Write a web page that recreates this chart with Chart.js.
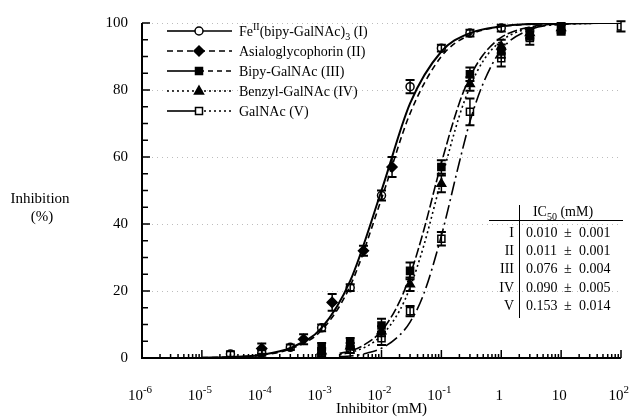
<!DOCTYPE html>
<html>
<head>
<meta charset="utf-8">
<script src="https://cdn.jsdelivr.net/npm/chart.js@4.4.1/dist/chart.umd.min.js"></script>
<style>
  html, body { margin: 0; background: #fff; }
</style>
</head>
<body>
<canvas id="chart" width="630" height="418"></canvas>
<script>
// measured points (inhibitor conc. in mM, % inhibition, error)
const concI = [3e-5, 1e-4, 3e-4, 1e-3, 3e-3, 1e-2, 3e-2, 0.1, 0.3, 1];
const inhI = [1.2, 1.5, 3.2, 9, 21, 48.5, 81, 92.5, 97, 98.5];
const errI = [0.8, 0.8, 0.8, 1, 1, 1.5, 2, 1, 1, 1];

const concII = [1e-4, 5e-4, 1.5e-3, 5e-3, 1.5e-2];
const inhII = [2.8, 5.6, 16.6, 32, 57];
const errII = [1.5, 1.5, 2.5, 1.5, 3];

const concIII = [1e-3, 3e-3, 1e-2, 3e-2, 0.1, 0.3, 1, 3, 10];
const inhIII = [3, 4.5, 9.7, 26, 57, 84.7, 91.6, 96.5, 98.5];
const errIII = [1.5, 1.5, 2, 2.5, 2, 2, 2, 1.5, 1.5];

const concIV = [1e-3, 3e-3, 1e-2, 3e-2, 0.1, 0.3, 1, 3, 10];
const inhIV = [2, 3.5, 8, 22, 52, 81.8, 93, 97, 98.5];
const errIV = [1, 1, 1.5, 2, 2.5, 2, 2, 1.5, 1];

const concV = [1e-3, 3e-3, 1e-2, 3e-2, 0.1, 0.3, 1, 3, 10, 100];
const inhV = [1.5, 2.5, 5.9, 14, 35.6, 73.5, 89.5, 95.5, 98, 99];
const errV = [1, 1, 2, 1.5, 2, 4, 2.5, 2, 1.5, 1.5];

// fitted curves
const curveX1 = [1e-5, 3e-5, 1e-4, 3e-4, 1e-3, 3e-3, 1e-2, 3e-2, 0.1, 0.3, 1, 3, 10, 100];
const curveI = [0.1, 0.3, 1, 3, 9, 23, 50, 76, 91.5, 97, 99, 99.7, 99.9, 100];
const curveII = [0.1, 0.3, 0.9, 2.7, 8.3, 21.5, 47.5, 73, 90, 96.5, 98.9, 99.6, 99.9, 100];

const curveX2 = [2e-3, 3e-3, 5e-3, 1e-2, 2e-2, 3e-2, 5e-2, 0.1, 0.2, 0.3, 0.5, 1, 3, 10, 100];
const curveIII = [1.4, 2.1, 3.8, 8.1, 16.8, 24.7, 37.7, 58.2, 76.2, 83.9, 90.5, 95.7, 98.8, 99.7, 100];
const curveIV = [1.0, 1.7, 3.0, 6.7, 14.1, 21.1, 33.1, 53.2, 72.3, 80.9, 88.7, 94.7, 98.5, 99.6, 100];
const curveV = [0.4, 0.6, 1.2, 2.9, 6.8, 10.7, 18.8, 36.5, 58.5, 70.6, 82, 92, 98, 99.6, 100];

const xExps = [-6, -5, -4, -3, -2, -1, 0, 1, 2];
const xTickBase = ["10", "10", "10", "10", "10", "10", "1", "10", "10"];
const xTickSup = ["-6", "-5", "-4", "-3", "-2", "-1", "", "", "2"];

const tableRows = ["I", "II", "III", "IV", "V"];
const tableIC50 = ["0.010", "0.011", "0.076", "0.090", "0.153"];
const tableErr = ["0.001", "0.001", "0.004", "0.005", "0.014"];

const SERIF = "'Liberation Serif', 'DejaVu Serif', serif";

const pts = (xs, ys) => xs.map((x, i) => ({ x: x, y: ys[i] }));

const series = [
  { name: "I", conc: concI, inh: inhI, err: errI, curveX: curveX1, curve: curveI, dash: [], style: "circle", fill: "#fff", r: 4 },
  { name: "II", conc: concII, inh: inhII, err: errII, curveX: curveX1, curve: curveII, dash: [6, 4], style: "rectRot", fill: "#000", r: 5 },
  { name: "III", conc: concIII, inh: inhIII, err: errIII, curveX: curveX2, curve: curveIII, dash: [10, 3], style: "rect", fill: "#000", r: 5 },
  { name: "IV", conc: concIV, inh: inhIV, err: errIV, curveX: curveX2, curve: curveIV, dash: [2, 3], style: "triangle", fill: "#000", r: 5 },
  { name: "V", conc: concV, inh: inhV, err: errV, curveX: curveX2, curve: curveV, dash: [14, 4, 2, 4], style: "rect", fill: "#fff", r: 5 }
];

const datasets = [];
series.forEach((s) => {
  datasets.push({
    label: "fit " + s.name,
    data: pts(s.curveX, s.curve),
    showLine: true,
    borderColor: "#000",
    borderWidth: s.name === "I" ? 2 : 1.6,
    borderDash: s.dash,
    pointRadius: 0,
    cubicInterpolationMode: "monotone",
    fill: false
  });
});
series.forEach((s) => {
  datasets.push({
    label: s.name,
    data: pts(s.conc, s.inh),
    showLine: false,
    pointStyle: s.style,
    pointRadius: s.r,
    pointBackgroundColor: s.fill,
    pointBorderColor: "#000",
    pointBorderWidth: 1.5,
    errors: s.err
  });
});

function drawMarker(ctx, style, fill, x, y) {
  ctx.save();
  ctx.fillStyle = fill;
  ctx.strokeStyle = "#000";
  ctx.lineWidth = 1.5;
  ctx.setLineDash([]);
  ctx.beginPath();
  if (style === "circle") {
    ctx.arc(x, y, 4, 0, Math.PI * 2);
  } else if (style === "rectRot") {
    ctx.moveTo(x, y - 5); ctx.lineTo(x + 5, y); ctx.lineTo(x, y + 5); ctx.lineTo(x - 5, y); ctx.closePath();
  } else if (style === "rect") {
    ctx.rect(x - 3.5, y - 3.5, 7, 7);
  } else if (style === "triangle") {
    ctx.moveTo(x, y - 5); ctx.lineTo(x + 4.5, y + 3); ctx.lineTo(x - 4.5, y + 3); ctx.closePath();
  }
  ctx.fill();
  ctx.stroke();
  ctx.restore();
}

// text with a raised / lowered part: parts = [[text, "n"|"sup"|"sub"], ...]
function richText(ctx, parts, x, y, size, align, maxRight) {
  const small = Math.round(size * 0.7);
  let w = 0;
  parts.forEach((p) => {
    ctx.font = (p[1] === "n" ? size : small) + "px " + SERIF;
    p.w = ctx.measureText(p[0]).width;
    w += p.w;
  });
  let cx = align === "center" ? x - w / 2 : x;
  if (maxRight && cx + w > maxRight) cx = maxRight - w;
  ctx.textAlign = "left";
  ctx.textBaseline = "alphabetic";
  parts.forEach((p) => {
    ctx.font = (p[1] === "n" ? size : small) + "px " + SERIF;
    let dy = p[1] === "sup" ? -size * 0.45 : p[1] === "sub" ? size * 0.3 : 0;
    ctx.fillText(p[0], cx, y + dy);
    cx += p.w;
  });
}

const decorPlugin = {
  id: "decor",
  beforeDatasetsDraw(chart) {
    const { ctx, chartArea: a, scales: { y } } = chart;
    ctx.save();
    ctx.strokeStyle = "#bdbdbd";
    ctx.lineWidth = 1;
    ctx.setLineDash([1, 4]);
    [20, 40, 60, 80, 100].forEach((v) => {
      const py = Math.round(y.getPixelForValue(v)) + 0.5;
      ctx.beginPath(); ctx.moveTo(a.left, py); ctx.lineTo(a.right, py); ctx.stroke();
    });
    ctx.restore();
  },
  afterDatasetsDraw(chart) {
    const { ctx, chartArea: a, scales: { x, y } } = chart;
    ctx.save();
    // error bars
    ctx.strokeStyle = "#000";
    ctx.setLineDash([]);
    chart.data.datasets.forEach((ds) => {
      if (!ds.errors) return;
      ds.data.forEach((p, i) => {
        const e = ds.errors[i];
        const px = x.getPixelForValue(p.x);
        const top = y.getPixelForValue(Math.min(p.y + e, 100.5));
        const bot = y.getPixelForValue(p.y - e);
        ctx.lineWidth = 1.5;
        ctx.beginPath(); ctx.moveTo(px, top); ctx.lineTo(px, bot); ctx.stroke();
        ctx.lineWidth = 2;
        ctx.beginPath();
        ctx.moveTo(px - 4.5, top); ctx.lineTo(px + 4.5, top);
        ctx.moveTo(px - 4.5, bot); ctx.lineTo(px + 4.5, bot);
        ctx.stroke();
      });
    });

    // axes
    ctx.lineWidth = 2;
    ctx.beginPath();
    ctx.moveTo(a.left, a.top); ctx.lineTo(a.left, a.bottom); ctx.lineTo(a.right, a.bottom);
    ctx.stroke();
    ctx.lineWidth = 1.5;
    ctx.beginPath();
    for (let v = 0; v <= 100; v += 5) {
      const py = y.getPixelForValue(v);
      ctx.moveTo(a.left, py); ctx.lineTo(a.left + (v % 20 === 0 ? 8 : 6), py);
    }
    xExps.forEach((ex) => {
      const base = Math.pow(10, ex);
      const px = x.getPixelForValue(base);
      ctx.moveTo(px, a.bottom); ctx.lineTo(px, a.bottom - 8);
      if (ex < 2) {
        for (let m = 2; m <= 9; m++) {
          const mx = x.getPixelForValue(base * m);
          ctx.moveTo(mx, a.bottom); ctx.lineTo(mx, a.bottom - 4);
        }
      }
    });
    ctx.stroke();

    // x tick labels with exponents
    ctx.fillStyle = "#000";
    xExps.forEach((ex, i) => {
      const px = x.getPixelForValue(Math.pow(10, ex));
      const parts = [[xTickBase[i], "n"]];
      if (xTickSup[i]) parts.push([xTickSup[i], "sup"]);
      richText(ctx, parts, px - 2, a.bottom + 42, 15, "center", 629);
    });

    // axis titles
    ctx.font = "15px " + SERIF;
    ctx.textAlign = "center";
    ctx.textBaseline = "middle";
    ctx.fillText("Inhibitor (mM)", (a.left + a.right) / 2, 409);
    ctx.fillText("Inhibition", 40, 199);
    ctx.fillText("(%)", 42, 217);

    // legend
    const legendText = [
      [["Fe", "n"], ["II", "sup"], ["(bipy-GalNAc)", "n"], ["3", "sub"], [" (I)", "n"]],
      [["Asialoglycophorin (II)", "n"]],
      [["Bipy-GalNAc (III)", "n"]],
      [["Benzyl-GalNAc (IV)", "n"]],
      [["GalNAc (V)", "n"]]
    ];
    const leftDash = [[], [6, 4], [], [2, 3], []];
    const rightDash = [[], [6, 4], [5, 4], [2, 3], [2, 3]];
    series.forEach((s, i) => {
      const ly = 31 + i * 20;
      ctx.lineWidth = 1.6;
      ctx.setLineDash(leftDash[i]);
      ctx.beginPath(); ctx.moveTo(167, ly); ctx.lineTo(199, ly); ctx.stroke();
      ctx.setLineDash(rightDash[i]);
      ctx.beginPath(); ctx.moveTo(199, ly); ctx.lineTo(232, ly); ctx.stroke();
      ctx.setLineDash([]);
      drawMarker(ctx, s.style, s.fill, 199, ly);
      ctx.fillStyle = "#000";
      richText(ctx, legendText[i], 239, ly + 5, 14, "left");
    });

    // IC50 table
    ctx.lineWidth = 1;
    ctx.beginPath();
    ctx.moveTo(489, 220.5); ctx.lineTo(623, 220.5);
    ctx.moveTo(519.5, 205); ctx.lineTo(519.5, 318);
    ctx.stroke();
    richText(ctx, [["IC", "n"], ["50", "sub"], [" (mM)", "n"]], 563, 216, 14, "center");
    ctx.font = "14px " + SERIF;
    ctx.textBaseline = "alphabetic";
    tableRows.forEach((r, i) => {
      const ty = 237 + i * 18.2;
      ctx.textAlign = "right";
      ctx.fillText(r, 514, ty);
      ctx.textAlign = "left";
      ctx.fillText(tableIC50[i], 526, ty);
      ctx.fillText("\u00b1", 564, ty);
      ctx.fillText(tableErr[i], 579, ty);
    });
    ctx.restore();
  }
};

new Chart(document.getElementById("chart").getContext("2d"), {
  type: "scatter",
  data: { datasets: datasets },
  options: {
    responsive: false,
    animation: false,
    layout: { padding: { top: 19, right: 9, left: 0, bottom: 0 } },
    plugins: { legend: { display: false }, tooltip: { enabled: false } },
    scales: {
      x: {
        type: "logarithmic",
        min: 1e-6,
        max: 100,
        ticks: { display: false },
        grid: { display: false },
        border: { display: false },
        afterFit: (s) => { s.height = 60; }
      },
      y: {
        min: 0,
        max: 100,
        ticks: {
          stepSize: 20,
          padding: 14,
          color: "#000",
          font: { family: SERIF, size: 15 }
        },
        grid: { display: false, drawTicks: false },
        border: { display: false },
        afterFit: (s) => { s.width = 142; }
      }
    }
  },
  plugins: [decorPlugin]
});
</script>
</body>
</html>
